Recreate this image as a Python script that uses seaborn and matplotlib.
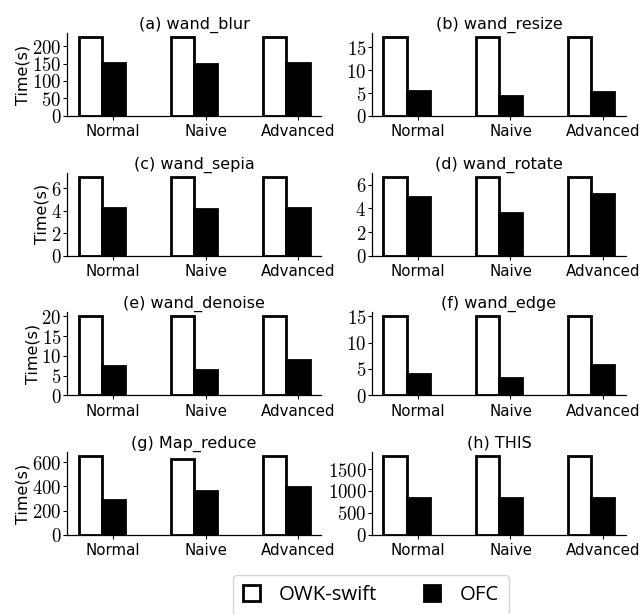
import numpy as np
import pandas as pd
import matplotlib
matplotlib.use("Agg")
import matplotlib.pyplot as plt
from matplotlib.ticker import MultipleLocator, FuncFormatter
from matplotlib.patches import Patch
import seaborn as sns

# ---- data ----
categories = ["Normal", "Naive", "Advanced"]
systems = ["OWK-swift", "OFC"]
titles = ["(a) wand_blur", "(b) wand_resize", "(c) wand_sepia", "(d) wand_rotate",
          "(e) wand_denoise", "(f) wand_edge", "(g) Map_reduce", "(h) THIS"]
owk_swift = [
    [226, 226, 226],
    [17.3, 17.3, 17.3],
    [7.05, 7.05, 7.05],
    [6.7, 6.7, 6.7],
    [20.0, 20.0, 20.0],
    [15.0, 15.0, 15.0],
    [652, 625, 652],
    [1797, 1797, 1797],
]
ofc = [
    [151, 150, 152],
    [5.45, 4.3, 5.3],
    [4.26, 4.14, 4.29],
    [5.0, 3.6, 5.2],
    [7.4, 6.5, 8.85],
    [3.95, 3.2, 5.8],
    [285, 359, 393],
    [830, 830, 830],
]
tick_steps = [50, 5, 2, 2, 5, 5, 200, 500]

# ---- style ----
sns.set_style("ticks")
plt.rcParams["font.family"] = ["DejaVu Sans"]
plt.rcParams["mathtext.fontset"] = "cm"
for k in ["text.color", "axes.labelcolor", "xtick.color", "ytick.color", "axes.edgecolor"]:
    plt.rcParams[k] = "black"

fig, axes = plt.subplots(4, 2, figsize=(6.4, 6.14), dpi=100)
fig.subplots_adjust(left=0.1047, right=0.978, top=0.9463, bottom=0.1287,
                    wspace=0.2, hspace=0.683)

palette = {"OWK-swift": "white", "OFC": "black"}

for i, ax in enumerate(axes.flat):
    df = pd.DataFrame({
        "Version": categories * 2,
        "System": [systems[0]] * 3 + [systems[1]] * 3,
        "Time": list(owk_swift[i]) + list(ofc[i]),
    })
    sns.barplot(data=df, x="Version", y="Time", hue="System", hue_order=systems,
                order=categories, palette=palette, edgecolor="black", linewidth=2,
                width=0.5, legend=False, ax=ax, errorbar=None)
    ax.set_xlim(-0.375, 2.375)
    ymax = max(max(owk_swift[i]), max(ofc[i]))
    ax.set_ylim(0, ymax * 1.05)
    ax.set_xticks(np.arange(len(categories)) + 0.125)
    ax.set_xticklabels(categories, fontsize=10.8)
    ax.yaxis.set_major_locator(MultipleLocator(tick_steps[i]))
    ax.yaxis.set_major_formatter(FuncFormatter(lambda v, p: f"${v:g}$"))
    ax.tick_params(axis="y", labelsize=13.5, length=3, pad=1, width=0.8, colors="black")
    ax.tick_params(axis="x", length=3, pad=3, width=0.8, colors="black")
    ax.set_xlabel("")
    if i % 2 == 0:
        ax.set_ylabel("Time(s)", fontsize=11.5, labelpad=1, color="black")
    else:
        ax.set_ylabel("")
    ax.set_title(titles[i], fontsize=11.5, pad=3, color="black")
    for s in ["left", "bottom"]:
        ax.spines[s].set_linewidth(0.9)
        ax.spines[s].set_color("black")
    sns.despine(ax=ax)

handles = [Patch(facecolor="white", edgecolor="black", linewidth=2, label="OWK-swift"),
           Patch(facecolor="black", edgecolor="black", linewidth=2, label="OFC")]
leg = fig.legend(handles=handles, loc="upper center", bbox_to_anchor=(0.5797, 0.0635),
                 ncol=2, frameon=True, fancybox=True, handlelength=0.8, handleheight=0.8,
                 handletextpad=0.95, columnspacing=2.25, borderpad=0.5, borderaxespad=0,
                 prop={"family": "Open Sans", "size": 14.7})
for t in leg.get_texts():
    t.set_color("black")

fig.savefig("out.png", dpi=100)
